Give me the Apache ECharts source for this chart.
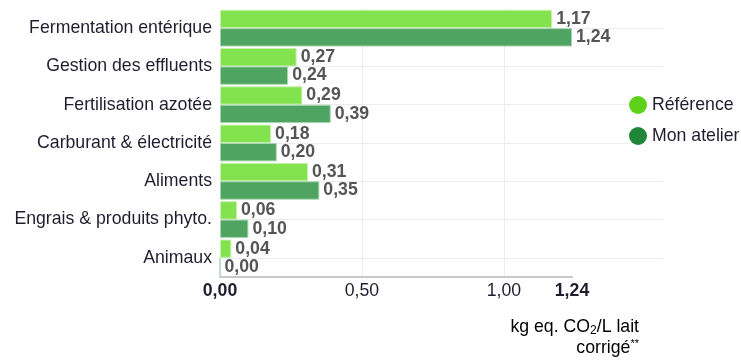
<!DOCTYPE html>
<html>
<head>
<meta charset="utf-8">
<script src="https://cdn.jsdelivr.net/npm/echarts@6/dist/echarts.min.js"></script>
<style>
  html, body { margin: 0; padding: 0; background: #fff; }
  #main { width: 741px; height: 361px; }
</style>
</head>
<body>
<div id="main"></div>
<script>
// categories (top to bottom)
var categories = ['Fermentation entérique', 'Gestion des effluents', 'Fertilisation azotée',
  'Carburant & électricité', 'Aliments', 'Engrais & produits phyto.', 'Animaux'];
var reference = [1.17, 0.27, 0.29, 0.18, 0.31, 0.06, 0.04];
var monAtelier = [1.24, 0.24, 0.39, 0.20, 0.35, 0.10, 0.00];
var axisMax = 1.24;

function fmt(v) { return v.toFixed(2).replace('.', ','); }

var FS = 17.7;
var myChart = echarts.init(document.getElementById('main'));
var labelStyle = {
  show: true,
  position: 'right',
  distance: 4,
  color: '#555',
  fontWeight: 'bold',
  fontSize: FS,
  fontFamily: 'Liberation Sans',
  formatter: function (p) { return fmt(p.value); }
};
var option = {
  textStyle: { fontFamily: 'Liberation Sans' },
  grid: [
    { left: 220, right: 169, top: 9, bottom: 84 },
    // grille des lignes horizontales (au centre des catégories)
    { left: 220, right: 78, top: 28, bottom: 103 }
  ],
  legend: {
    orient: 'vertical',
    left: 629,
    top: 96,
    padding: 0,
    backgroundColor: '#fff',
    itemGap: 13,
    itemWidth: 18,
    itemHeight: 18,
    icon: 'circle',
    textStyle: { fontSize: FS, color: '#1e1e2e', lineHeight: 18 },
    data: [
      { name: 'Référence', itemStyle: { color: '#5fd11a', opacity: 1, borderWidth: 0 } },
      { name: 'Mon atelier', itemStyle: { color: '#1f8737', opacity: 1, borderWidth: 0 } }
    ]
  },
  xAxis: [{
    type: 'value',
    gridIndex: 0,
    min: 0,
    max: axisMax,
    interval: 0.5,
    axisLine: { show: true, lineStyle: { color: '#c8c8c8', width: 2 } },
    axisTick: { show: false },
    splitLine: { showMinLine: false, showMaxLine: false, lineStyle: { color: '#ececec' } },
    axisLabel: {
      margin: 5,
      fontSize: FS,
      color: '#1e1e2e',
      formatter: function (v) {
        if (v === 0 || v === axisMax) return '{b|' + fmt(v) + '}';
        return fmt(v);
      },
      rich: { b: { fontWeight: 'bold', fontSize: FS, color: '#1e1e2e' } }
    }
  }, {
    type: 'value',
    gridIndex: 1,
    min: 0,
    max: 1,
    show: false
  }],
  yAxis: [{
    type: 'category',
    gridIndex: 0,
    inverse: true,
    data: categories,
    axisLine: { show: false },
    axisTick: { show: false },
    splitLine: { show: false },
    axisLabel: { fontSize: FS, color: '#1e1e2e', margin: 8 }
  }, {
    type: 'value',
    gridIndex: 1,
    min: 0,
    max: categories.length - 1,
    interval: 1,
    axisLine: { show: false },
    axisTick: { show: false },
    axisLabel: { show: false },
    splitLine: { show: true, lineStyle: { color: '#ececec' } }
  }],
  series: [{
    name: 'Référence',
    type: 'bar',
    data: reference,
    barGap: '0%',
    barCategoryGap: '4%',
    itemStyle: { color: '#82e34e', borderColor: '#c8f0b0', borderWidth: 1 },
    label: labelStyle
  }, {
    name: 'Mon atelier',
    type: 'bar',
    data: monAtelier,
    itemStyle: { color: '#4fa462', borderColor: '#a8d6b0', borderWidth: 1 },
    label: labelStyle
  }],
  graphic: [{
    type: 'text',
    right: 102,
    top: 318,
    style: {
      text: '{n|kg eq. CO}{s|2}{n|/L lait}\n{n|corrigé}{u|**}',
      rich: {
        n: { fontSize: FS, color: '#1e1e2e', fontFamily: 'Liberation Sans', lineHeight: 21, align: 'right' },
        s: { fontSize: 12, color: '#1e1e2e', fontFamily: 'Liberation Sans', padding: [8, 0, 0, 0], align: 'right' },
        u: { fontSize: 11, color: '#1e1e2e', fontFamily: 'Liberation Sans', padding: [0, 0, 8, 0], align: 'right' }
      }
    }
  }]
};
myChart.setOption(option);
</script>
</body>
</html>
